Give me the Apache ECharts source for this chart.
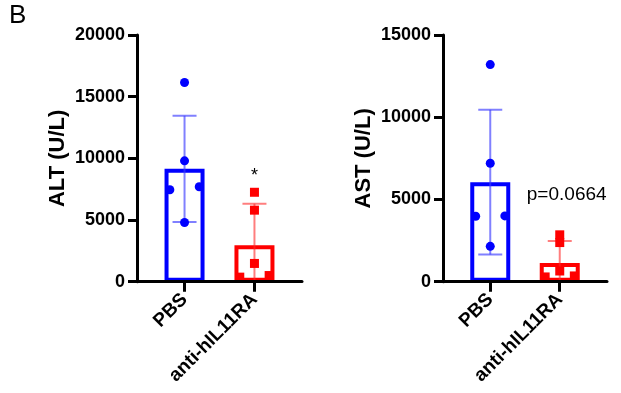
<!DOCTYPE html>
<html>
<head>
<meta charset="utf-8">
<script src="https://cdn.jsdelivr.net/npm/echarts@6/dist/echarts.min.js"></script>
<style>
html,body{margin:0;padding:0;background:#fff;}
#c{width:621px;height:393px;}
</style>
</head>
<body>
<div id="c"></div>
<script>
// ---- data ----
const categories = ['PBS', 'anti-hIL11RA'];
// ALT (U/L) individual values
const altPBS  = [16150, 9800, 7450, 7700, 4800];
const altAnti = [7250, 5800, 1480, 370, 500];
// AST (U/L) individual values
const astPBS  = [13200, 7200, 3980, 4000, 2150];
const astAnti = [2850, 2380, 650, 290, 350];
// bar heights (mean) and SD
const altMean = [9150, 2950];
const altSD   = [4300, 3360];
const astMean = [6050, 1140];
const astSD   = [4400, 1340];
// horizontal jitter of points (in category units)
const altPBSJit  = [0, 0, -0.21, 0.21, 0];
const altAntiJit = [0, 0, 0, -0.21, 0.21];
const astPBSJit  = [0, 0, -0.21, 0.21, 0];
const astAntiJit = [0, 0, 0, -0.21, 0.21];
// axis ranges
const altMax = 20000, astMax = 15000, yStep = 5000;
// annotations
const altNote = {text: '*', x: 2, y: 8600};
const astNote = {text: 'p=0.0664', x: 2.1, y: 5300};

const FONT = 'Liberation Sans, Arial, Helvetica, sans-serif';
const BLUE = '#0000ff', RED = '#ff0000';
const groupColors = [BLUE, RED];
const errColors = ['rgba(60,60,255,0.65)', 'rgba(255,40,40,0.6)'];

const chart = echarts.init(document.getElementById('c'), null, {renderer: 'canvas'});

function xAxisCfg(gi) {
  return {
    gridIndex: gi, type: 'value', min: 0.32, max: 2.68, z: 10,
    splitLine: {show: false},
    axisLine: {show: true, onZero: false, lineStyle: {color: '#000', width: 3}},
    axisTick: {show: true, customValues: [1, 2], length: 10, lineStyle: {color: '#000', width: 3}},
    axisLabel: {
      customValues: [1, 2], rotate: 45, margin: 15,
      fontFamily: FONT, fontWeight: 'bold', fontSize: 19, color: '#000',
      formatter: v => categories[Math.round(v) - 1]
    }
  };
}
function yAxisCfg(gi, max, name) {
  return {
    gridIndex: gi, type: 'value', min: 0, max: max, interval: yStep,
    name: name, nameLocation: 'middle', nameGap: 68, nameRotate: 90,
    nameTextStyle: {fontFamily: FONT, fontWeight: 'bold', fontSize: 22, color: '#000'},
    splitLine: {show: false},
    axisLine: {show: true, lineStyle: {color: '#000', width: 3}},
    axisTick: {show: true, length: 9, lineStyle: {color: '#000', width: 3}},
    axisLabel: {fontFamily: FONT, fontWeight: 'bold', fontSize: 18, color: '#000', margin: 12,
      formatter: v => String(v)}
  };
}

function barSeries(gi, means) {
  return {
    type: 'bar', xAxisIndex: gi, yAxisIndex: gi, barWidth: 40, z: 2,
    data: means.map((m, i) => ({
      value: [i + 1, m],
      itemStyle: {color: '#fff', borderColor: groupColors[i], borderWidth: 4}
    }))
  };
}

function errSeries(gi, means, sds) {
  return {
    type: 'custom', xAxisIndex: gi, yAxisIndex: gi, z: 3, clip: true,
    data: means.map((m, i) => [i + 1, m, sds[i], i]),
    renderItem: function (params, api) {
      const x = api.value(0), m = api.value(1), s = api.value(2), ci = api.value(3);
      const lowV = m - s;
      const top = api.coord([x, m + s]);
      const bot = api.coord([x, Math.max(lowV, 0)]);
      const cap = 12;
      const style = {stroke: errColors[ci], lineWidth: 2, fill: null};
      const children = [
        {type: 'line', shape: {x1: top[0], y1: top[1], x2: bot[0], y2: bot[1]}, style: style},
        {type: 'line', shape: {x1: top[0] - cap, y1: top[1], x2: top[0] + cap, y2: top[1]}, style: style}
      ];
      if (lowV >= 0) {
        children.push({type: 'line', shape: {x1: bot[0] - cap, y1: bot[1], x2: bot[0] + cap, y2: bot[1]}, style: style});
      }
      return {type: 'group', children: children};
    }
  };
}

function pointSeries(gi, vals, jit, idx, symbol) {
  return {
    type: 'scatter', xAxisIndex: gi, yAxisIndex: gi, z: 4,
    symbol: symbol, symbolSize: 9,
    itemStyle: {color: groupColors[idx], opacity: 1},
    data: vals.map((v, i) => [idx + 1 + jit[i], v])
  };
}

function noteSeries(gi, note, size, weight) {
  return {
    type: 'scatter', xAxisIndex: gi, yAxisIndex: gi, z: 5,
    symbol: 'circle', symbolSize: 0.1, itemStyle: {color: 'transparent', opacity: 1},
    silent: true,
    label: {show: true, position: 'inside', formatter: note.text,
      fontFamily: FONT, fontSize: size, fontWeight: weight, color: '#000', opacity: 1},
    data: [[note.x, note.y]]
  };
}

chart.setOption({
  animation: false,
  backgroundColor: '#fff',
  graphic: [{type: 'text', left: 9, top: 3,
    style: {text: 'B', fontFamily: FONT, fontSize: 26, fill: '#000'}}],
  grid: [
    {left: 137, top: 35, width: 165, height: 246.7},
    {left: 443, top: 35, width: 164, height: 246.7}
  ],
  xAxis: [xAxisCfg(0), xAxisCfg(1)],
  yAxis: [yAxisCfg(0, altMax, 'ALT (U/L)'), yAxisCfg(1, astMax, 'AST (U/L)')],
  series: [
    barSeries(0, altMean),
    errSeries(0, altMean, altSD),
    pointSeries(0, altPBS, altPBSJit, 0, 'circle'),
    pointSeries(0, altAnti, altAntiJit, 1, 'rect'),
    noteSeries(0, altNote, 18, 'normal'),
    barSeries(1, astMean),
    errSeries(1, astMean, astSD),
    pointSeries(1, astPBS, astPBSJit, 0, 'circle'),
    pointSeries(1, astAnti, astAntiJit, 1, 'rect'),
    noteSeries(1, astNote, 19, 'normal')
  ]
});
</script>
</body>
</html>
